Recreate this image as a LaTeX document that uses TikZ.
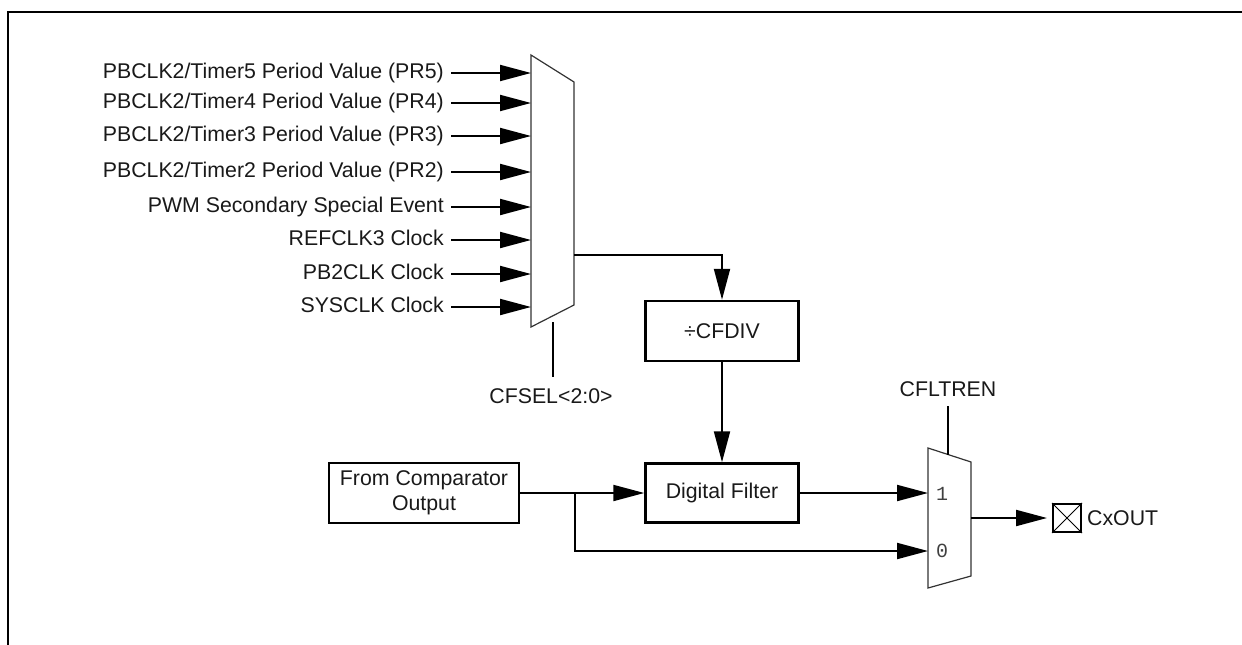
\documentclass[tikz,border=0pt]{standalone}
\usepackage{fontspec}
\setmainfont{Liberation Sans}
\setmonofont{Liberation Mono}
\usetikzlibrary{arrows.meta}
\begin{document}
\begin{tikzpicture}[x=1pt,y=-1pt,
  lbl/.style={font=\fontsize{21.3}{25}\selectfont, inner sep=0pt, text=black!90},
  wire/.style={line width=2pt},
  arr/.style={wire, -{Triangle[length=31pt,width=16pt]}},
  box/.style={draw, line width=2.5pt, minimum width=153pt, minimum height=60pt, font=\fontsize{21.3}{25}\selectfont, align=center, inner sep=0pt, text=black!90},
  mux/.style={draw=black!80, line width=1.2pt},
  muxlbl/.style={font=\ttfamily\fontsize{20}{24}\selectfont, inner sep=0pt, text=black!75},
]
\useasboundingbox (0,0) rectangle (1242,645);
% frame
\draw[line width=2.5pt] (7.25,12) -- (1242,12);
\draw[line width=1.5pt] (8,12) -- (8,645);

% first multiplexer
\draw[mux] (531,55) -- (574,82) -- (574,305) -- (531,327) -- cycle;
\foreach \y/\t [count=\i] in {73/{PBCLK2/Timer5 Period Value (PR5)},
  103/{PBCLK2/Timer4 Period Value (PR4)},
  136/{PBCLK2/Timer3 Period Value (PR3)},
  172/{PBCLK2/Timer2 Period Value (PR2)},
  207/{PWM Secondary Special Event},
  240/{REFCLK3 Clock},
  274/{PB2CLK Clock},
  307/{SYSCLK Clock}}{
  \node[lbl, anchor=base east] (in\i) at (444,\y+5) {\t};
  \coordinate (m1i\i) at (531,\y);
  \draw[arr] (in\i.base east) ++(7,-5) -- (m1i\i);
}
\coordinate (m1o) at (574,255);
\coordinate (m1s) at (553,322);
\coordinate (cfselt) at (553,377);
\node[lbl, anchor=base] (cfsel) at (551,403) {CFSEL<2:0>};
\draw[wire] (m1s) -- (cfselt);

% divider and filter
\node[box] (cfdiv) at (722,331) {÷CFDIV};
\draw[arr] (m1o) -| (cfdiv.north);
\node[box, minimum height=59pt] (filt) at (722,493) {Digital Filter};
\draw[arr] (cfdiv.south) -- (filt.north);

\node[box, minimum width=190pt] (cmp) at (424,493) {From Comparator\\Output};
\draw[arr] (cmp.east) -- (filt.west);
\coordinate (br) at (575,493);

% second multiplexer
\draw[mux] (928,448) -- (971,462) -- (971,576) -- (928,588) -- cycle;
\coordinate (m2i1) at (928,493);
\coordinate (m2i0) at (928,551);
\coordinate (m2o) at (971,518);
\coordinate (m2s) at (948,454.5);
\node[muxlbl] (one) at (942,494) {1};
\node[muxlbl] (zero) at (942,551) {0};
\draw[arr] (filt.east) -- (m2i1);
\draw[arr] (br) |- (m2i0);
\node[lbl, anchor=base] (cfl) at (948,396) {CFLTREN};
\coordinate (cflb) at (948,406);
\draw[wire] (cflb) -- (m2s);

% output pin
\node[draw, line width=2pt, minimum size=28pt, inner sep=0pt] (pin) at (1067,518) {};
\draw[line width=0.8pt] (pin.north west) -- (pin.south east) (pin.north east) -- (pin.south west);
\draw[arr, shorten >=5pt] (m2o) -- (pin.west);
\node[lbl, anchor=west] (cx) at ([xshift=5pt]pin.east) {CxOUT};
\end{tikzpicture}
\end{document}
